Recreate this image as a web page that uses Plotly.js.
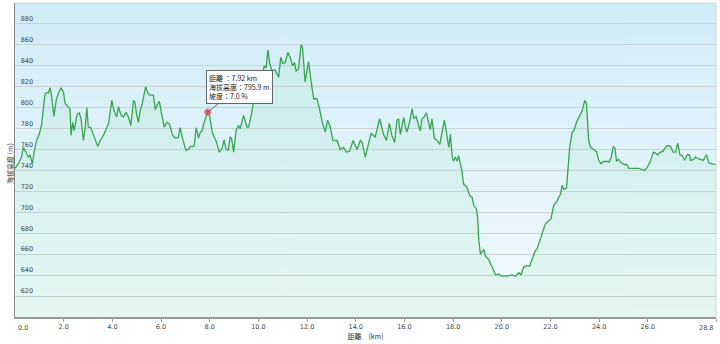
<!DOCTYPE html>
<html><head><meta charset="utf-8">
<script src="https://cdn.plot.ly/plotly-3.0.1.min.js"></script>
<style>html,body{margin:0;padding:0;background:#fff;}#chart{width:720px;height:344px;}</style>
</head><body><div id="chart"></div>
<script>
const distanceKm = [0.00,0.14,0.27,0.34,0.45,0.55,0.62,0.71,0.82,0.89,1.00,1.10,1.23,1.30,1.37,1.44,1.51,1.60,1.69,1.78,1.89,1.99,2.06,2.19,2.26,2.30,2.37,2.43,2.54,2.64,2.71,2.81,2.88,2.95,3.01,3.11,3.22,3.40,3.50,3.63,3.84,3.98,4.07,4.18,4.25,4.35,4.45,4.56,4.66,4.76,4.87,4.93,5.00,5.07,5.14,5.21,5.28,5.37,5.46,5.55,5.69,5.76,5.85,5.93,6.00,6.13,6.24,6.34,6.48,6.58,6.71,6.78,6.90,7.03,7.13,7.22,7.36,7.44,7.54,7.60,7.70,7.77,7.92,7.99,8.11,8.22,8.28,8.39,8.50,8.59,8.68,8.76,8.84,8.90,8.98,9.09,9.18,9.25,9.39,9.53,9.60,9.73,9.87,10.00,10.14,10.24,10.32,10.39,10.46,10.55,10.69,10.83,10.92,11.00,11.10,11.21,11.31,11.40,11.48,11.55,11.65,11.75,11.81,11.92,12.06,12.16,12.27,12.40,12.50,12.64,12.75,12.84,12.95,13.06,13.23,13.36,13.50,13.61,13.75,13.89,13.98,14.05,14.19,14.26,14.39,14.50,14.63,14.71,14.80,14.98,15.08,15.14,15.26,15.38,15.49,15.60,15.69,15.76,15.83,15.97,16.04,16.10,16.21,16.32,16.38,16.48,16.56,16.65,16.72,16.81,16.90,16.99,17.06,17.13,17.23,17.34,17.45,17.54,17.64,17.73,17.82,17.89,17.96,18.02,18.09,18.16,18.23,18.30,18.37,18.43,18.57,18.68,18.78,18.85,18.96,19.01,19.05,19.12,19.26,19.33,19.46,19.60,19.74,19.87,20.01,20.22,20.42,20.56,20.70,20.79,20.90,21.04,21.15,21.20,21.38,21.45,21.59,21.79,21.93,22.02,22.13,22.27,22.42,22.48,22.55,22.66,22.71,22.79,22.89,22.96,23.07,23.20,23.30,23.41,23.48,23.57,23.64,23.78,23.89,23.98,24.08,24.17,24.30,24.40,24.49,24.58,24.65,24.71,24.80,24.88,24.95,25.04,25.13,25.22,25.42,25.63,25.77,25.86,25.95,26.09,26.23,26.32,26.39,26.52,26.63,26.73,26.82,26.93,27.04,27.14,27.23,27.32,27.41,27.51,27.62,27.71,27.76,27.87,27.96,28.10,28.28,28.41,28.51,28.60,28.70,28.80];
const elevationM = [742,746.5,752.8,762,757.6,752.8,755,746.5,762,768.7,775,784.6,813,814.6,814,819,810,791.6,807,813.8,819,815,803.7,800.5,799,773.5,786,778,792.6,795,790,768.7,780,800,781.5,781,773.5,763,768.7,773.5,784.6,807,797,791,801,793,791,795.5,791,783,807,805,793,786,797,802,810,820,813.8,812,812,798,803,806,797,781.5,786,784.6,773.5,771,771.5,781,769,759,760.5,763,763,781,771,776,779,786,795.9,792.6,776,769,767,757.6,760.5,769,760,759.5,772,770.5,757.6,779,783,780,792.6,781.5,781.5,795.7,816.4,827.5,828.5,840,838,855,843,835.5,836,829,848,842.4,843,852.8,848,840,843,835,837,860,858,824.3,844,826,808.5,808.5,800,784.6,776.6,788,782,768.7,768.7,760,762,757.6,758.5,768.7,764,760,768.7,767,752.8,762,775.6,773.5,772,789.4,781.5,774.5,768.7,785,773,766.8,788,789.4,774.5,790.5,781.5,776.6,786,799,789.4,791.5,784.6,778,789.4,791,795,786,779,789.4,770.5,769,764.8,776,788,776,762,774.5,754,749,752.8,749,754,746,738.5,727,724,716,714.5,706.5,703,693.7,674.6,660,664.5,658,655,647.7,640.3,641,639,639,640.3,639,642.3,640.3,647.7,649,648.5,652.4,663.6,665,674.6,689,692,693.7,706.5,711,718,726,722,723.5,738.5,762.3,776.6,778,786,792.6,797,807,804,768.7,762.3,760,758,749.7,746.5,748.5,748.8,748,752,763,761.5,749,750.5,748,746.5,745.5,746,742,742,742,740.7,740,742,748,757.6,756.6,755,757.6,758.5,762.3,763.8,763,757.6,757.6,766,755,754,749.7,755,755,749.7,750.5,752.8,751,749.7,755,747,746.5,746,745.5];
const xTickVals = [0,2,4,6,8,10,12,14,16,18,20,22,24,26,28.8];
const xTickText = ["0.0","2.0","4.0","6.0","8.0","10.0","12.0","14.0","16.0","18.0","20.0","22.0","24.0","26.0","28.8"];
const yTickVals = [620,640,660,680,700,720,740,760,780,800,820,840,860,880];
const yTickText = ["620","640","660","680","700","720","740","760","780","800","820","840","860","880"];
const markerDist = [7.92];
const markerElev = [795.9];
const markerSlope = 7.0;

const font = "DejaVu Sans, Verdana, 'Noto Sans CJK TC', sans-serif";
const cjk = "'Noto Sans CJK TC', 'DejaVu Sans', sans-serif";

// vertical background gradient for the plot area
const cv = document.createElement('canvas'); cv.width = 4; cv.height = 300;
const ctx = cv.getContext('2d');
const grad = ctx.createLinearGradient(0, 0, 0, 300);
grad.addColorStop(0, '#d0ecf8'); grad.addColorStop(1, '#f3fbfd');
ctx.fillStyle = grad; ctx.fillRect(0, 0, 4, 300);
const bgSource = cv.toDataURL('image/png');

// the two end labels are pushed inward (as in the reference), so draw them as annotations
const lastIdx = xTickVals.length - 1;
const axisTickText = xTickText.map((t, i) => (i === 0 || i === lastIdx) ? '' : t);
const tickFont = {family:font, size:6.5, color:'#444'};

const traces = [
  {x:distanceKm, y:elevationM, type:'scatter', mode:'lines',
   line:{color:'#36a64e', width:1.3}, fill:'tozeroy', fillcolor:'rgba(140,225,170,0.13)',
   hoverinfo:'skip', showlegend:false},
  {x:markerDist, y:markerElev, type:'scatter', mode:'markers',
   marker:{symbol:'asterisk-open', size:6, color:'#e8505a', line:{color:'#e8505a', width:1.5}},
   hoverinfo:'skip', showlegend:false}
];

const layout = {
  width:720, height:344,
  margin:{l:15, r:4, t:3, b:27},
  paper_bgcolor:'#ffffff', plot_bgcolor:'#eaf6fb',
  showlegend:false,
  font:{family:font, size:6.5, color:'#444'},
  images:[{source:bgSource, xref:'paper', yref:'paper', x:0, y:1, sizex:1, sizey:1,
    sizing:'stretch', xanchor:'left', yanchor:'top', layer:'below'}],
  xaxis:{range:[0,28.8], tickvals:xTickVals, ticktext:axisTickText, showgrid:false, zeroline:false,
    showline:true, linecolor:'#9a9a9a', linewidth:1.5, ticks:'outside', ticklen:3, tickcolor:'#9a9a9a',
    automargin:false, tickfont:tickFont,
    title:{text:'距離\u2003(km)', font:{family:cjk, size:7, color:'#333'}, standoff:3}},
  yaxis:{range:[600,900], tickvals:yTickVals, ticktext:yTickText, showgrid:true, gridcolor:'#cbd3d7', gridwidth:1,
    zeroline:false, showline:true, linecolor:'#8a8a8a', linewidth:1.5, ticks:'',
    ticklabelposition:'inside', ticklabelshift:-5, ticklabelstandoff:4, automargin:false,
    tickfont:tickFont},
  shapes:[
    {type:'line', xref:'paper', yref:'paper', x0:0, x1:1, y0:1, y1:1, line:{color:'#d0d6d9', width:1}},
    {type:'line', xref:'paper', yref:'paper', x0:1, x1:1, y0:0, y1:1, line:{color:'#d0d6d9', width:1}}
  ],
  annotations:[
    {x:xTickVals[0], xref:'x', y:0, yref:'paper', yshift:-5, xshift:1, xanchor:'left', yanchor:'top',
     text:xTickText[0], showarrow:false, font:tickFont},
    {x:xTickVals[lastIdx], xref:'x', y:0, yref:'paper', yshift:-5, xshift:-1, xanchor:'right', yanchor:'top',
     text:xTickText[lastIdx], showarrow:false, font:tickFont},
    {xref:'paper', yref:'paper', x:-0.0075, y:0.49, xanchor:'center', yanchor:'middle', textangle:-90,
     text:'海拔高度 (m)', showarrow:false, font:{family:cjk, size:7, color:'#333'}},
    {x:markerDist[0], y:markerElev[0], xref:'x', yref:'y', showarrow:true, arrowhead:0, arrowwidth:1,
     arrowcolor:'#666', ax:32, ay:-25, align:'left', bgcolor:'#ffffff', bordercolor:'#666', borderwidth:1, borderpad:2,
     font:{family:cjk, size:7, color:'#222'},
     text:'距離 ：' + markerDist[0].toFixed(2) + ' km<br>海拔高度：' + markerElev[0].toFixed(1) + ' m<br>坡度：' + markerSlope.toFixed(1) + ' %'}
  ]
};
Plotly.newPlot('chart', traces, layout, {displayModeBar:false, staticPlot:true});
</script>
</body></html>
